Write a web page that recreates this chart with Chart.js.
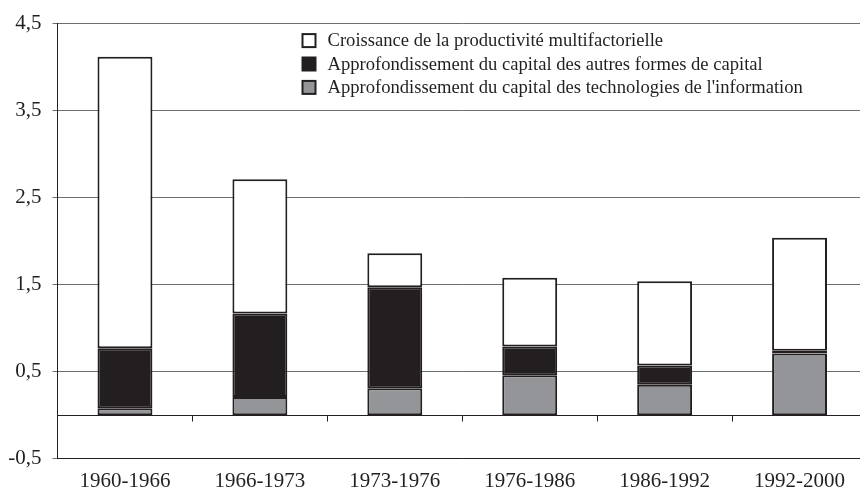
<!DOCTYPE html>
<html>
<head>
<meta charset="utf-8">
<script src="https://cdn.jsdelivr.net/npm/chart.js@4.4.1/dist/chart.umd.min.js"></script>
<style>
  html, body { margin: 0; padding: 0; overflow: hidden; background: #fff; }
  #wrap { width: 870px; height: 490px; position: relative; }
</style>
</head>
<body>
<div id="wrap"><canvas id="c"></canvas></div>
<script>
const categories = ['1960-1966', '1966-1973', '1973-1976', '1976-1986', '1986-1992', '1992-2000'];
const seriesNames = [
  "Approfondissement du capital des technologies de l'information",
  "Approfondissement du capital des autres formes de capital",
  "Croissance de la productivité multifactorielle"
];
const techInfo    = [0.08, 0.21, 0.31, 0.46, 0.35, 0.71];
const autresCap   = [0.69, 0.96, 1.16, 0.33, 0.22, 0.03];
const productMulti = [3.35, 1.54, 0.39, 0.79, 0.97, 1.30];
const yTickValues = [-0.5, 0.5, 1.5, 2.5, 3.5, 4.5];
const yTickLabels = ['-0,5', '0,5', '1,5', '2,5', '3,5', '4,5'];

const INK = '#231f20';
const GRAY = '#939598';
const FONT = "'Liberation Serif', 'Times New Roman', serif";

const extras = {
  id: 'extras',
  afterDatasetsDraw(chart) {
    const ctx = chart.ctx;
    const xs = chart.scales.x, ys = chart.scales.y;
    const area = chart.chartArea;
    const y0 = Math.round(ys.getPixelForValue(0)) + 0.5;
    ctx.save();
    ctx.strokeStyle = INK;
    ctx.lineWidth = 1;
    // zero line
    ctx.beginPath();
    ctx.moveTo(area.left, y0);
    ctx.lineTo(area.right, y0);
    // category boundary tick marks below zero line
    for (let i = 1; i < categories.length; i++) {
      const x = Math.round((xs.getPixelForValue(i - 1) + xs.getPixelForValue(i)) / 2) + 0.5;
      ctx.moveTo(x, y0);
      ctx.lineTo(x, y0 + 6);
    }
    ctx.stroke();

    // legend (top item = last dataset)
    const lx = area.left + 244, ly = area.top + 17, gap = 23.4, sq = 15;
    ctx.font = '18.6px ' + FONT;
    ctx.textBaseline = 'middle';
    ctx.textAlign = 'left';
    const ds = chart.data.datasets;
    for (let k = 0; k < ds.length; k++) {
      const d = ds[ds.length - 1 - k];
      const cy = ly + k * gap;
      ctx.fillStyle = INK;
      ctx.fillRect(lx, cy - sq / 2, sq, sq);
      ctx.fillStyle = d.backgroundColor;
      ctx.fillRect(lx + 2, cy - sq / 2 + 2, sq - 4, sq - 4);
      ctx.fillStyle = INK;
      ctx.fillText(d.label, lx + 26, cy + 1);
    }
    ctx.restore();
  }
};

const mk = (label, data, color) => ({
  label, data,
  backgroundColor: color,
  borderColor: INK,
  borderWidth: 2,
  borderSkipped: false,
  categoryPercentage: 1,
  barPercentage: 0.407
});

new Chart(document.getElementById('c'), {
  type: 'bar',
  data: {
    labels: categories,
    datasets: [
      mk(seriesNames[0], techInfo, GRAY),
      mk(seriesNames[1], autresCap, INK),
      mk(seriesNames[2], productMulti, '#ffffff')
    ]
  },
  options: {
    responsive: true,
    maintainAspectRatio: false,
    animation: false,
    devicePixelRatio: 1,
    layout: { padding: { left: 0, right: 3, top: 21, bottom: 0 } },
    plugins: { legend: { display: false }, tooltip: { enabled: false } },
    scales: {
      x: {
        stacked: true,
        offset: true,
        grid: { display: false, drawTicks: false },
        border: { display: true, color: INK, width: 1 },
        ticks: { color: INK, font: { family: FONT, size: 21 }, padding: 10, maxRotation: 0, autoSkip: false },
        afterFit(s) { s.height = 31.3; }
      },
      y: {
        stacked: true,
        min: -0.5,
        max: 4.5,
        afterBuildTicks(s) { s.ticks = yTickValues.map(v => ({ value: v })); },
        grid: { color: '#6d6e71', lineWidth: 1, tickLength: 5, drawTicks: true },
        border: { display: true, color: INK, width: 1 },
        ticks: {
          color: INK,
          font: { family: FONT, size: 21 },
          padding: 11,
          callback(v) { const i = yTickValues.indexOf(v); return i >= 0 ? yTickLabels[i] : ''; }
        },
        afterFit(s) { s.width = 57.5; }
      }
    }
  },
  plugins: [extras]
});
</script>
</body>
</html>
